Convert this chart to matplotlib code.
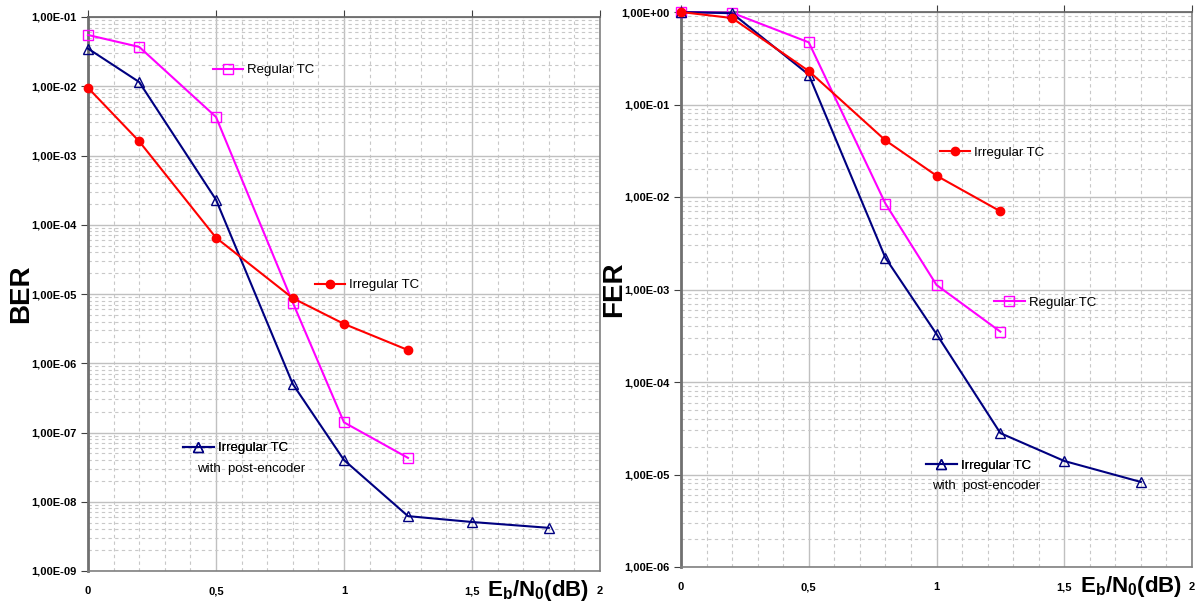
import numpy as np
import matplotlib.pyplot as plt
from matplotlib.ticker import FuncFormatter, LogLocator, MultipleLocator

plt.rcParams['font.family'] = ['Liberation Sans', 'DejaVu Sans']

########## data #################
ebn0 = [0, 0.2, 0.5, 0.8, 1.0, 1.25]
ebn0_post = [0, 0.2, 0.5, 0.8, 1.0, 1.25, 1.5, 1.8]

ber_regular = [5.5e-2, 3.7e-2, 3.6e-3, 7.5e-6, 1.4e-7, 4.3e-8]
ber_irregular = [9.5e-3, 1.6e-3, 6.5e-5, 8.7e-6, 3.7e-6, 1.55e-6]
ber_post = [3.5e-2, 1.15e-2, 2.3e-4, 5.0e-7, 4.0e-8, 6.2e-9, 5.1e-9, 4.2e-9]

fer_regular = [1.0, 0.98, 0.47, 8.5e-3, 1.12e-3, 3.5e-4]
fer_irregular = [1.0, 0.86, 0.23, 4.1e-2, 1.7e-2, 7.0e-3]
fer_post = [1.0, 0.97, 0.21, 2.2e-3, 3.3e-4, 2.8e-5, 1.4e-5, 8.3e-6]

MAG = '#ff00ff'
RED = '#ff0000'
NAVY = '#000080'

fig = plt.figure(figsize=(11.99, 6.01), dpi=100)
axL = fig.add_axes([88/1199, 1-571/601, 512/1199, 554/601])
axR = fig.add_axes([681/1199, 1-567/601, 511/1199, 555/601])


def sci_fmt(v, pos):
    return f"{v:.2E}".replace('.', ',')


def x_fmt(v, pos):
    return f"{v:g}".replace('.', ',')


def style_axis(ax, ymin, ymax, ylabel):
    ax.set_yscale('log')
    ax.set_xlim(0, 2)
    ax.set_ylim(ymin, ymax)
    ax.xaxis.set_major_locator(MultipleLocator(0.5))
    ax.xaxis.set_minor_locator(MultipleLocator(0.1))
    ax.yaxis.set_major_locator(LogLocator(base=10, numticks=20))
    ax.yaxis.set_minor_locator(LogLocator(base=10, subs=np.arange(2, 10), numticks=20))
    ax.yaxis.set_major_formatter(FuncFormatter(sci_fmt))
    ax.yaxis.set_minor_formatter(FuncFormatter(lambda v, p: ''))
    ax.xaxis.set_major_formatter(FuncFormatter(x_fmt))
    ax.grid(which='major', color='#c0c0c0', lw=1.0, ls='-')
    ax.grid(which='minor', color='#c8c8c8', lw=0.8, ls=(0, (3, 3)))
    ax.set_axisbelow(True)
    ax.tick_params(axis='x', which='major', top=True, bottom=False, labeltop=False,
                   labelbottom=True, direction='out', length=5, pad=6,
                   color='#404040', labelsize=8)
    ax.tick_params(axis='x', which='minor', top=False, bottom=False)
    ax.tick_params(axis='y', which='major', direction='out', length=5, pad=3,
                   color='#404040', labelsize=8)
    ax.tick_params(axis='y', which='minor', left=False)
    for lab in ax.get_xticklabels() + ax.get_yticklabels():
        lab.set_fontweight('bold')
    for s in ax.spines.values():
        s.set_color('#808080')
        s.set_linewidth(1.2)
    ax.spines['left'].set_linewidth(2)
    ax.spines['left'].set_color('#707070')
    ax.spines['top'].set_color('#606060')
    ax.set_ylabel(ylabel, fontsize=20, fontweight='bold', va='center')
    ax.yaxis.set_label_coords(-0.13, 0.5)
    ax.set_xlabel(r'E$_\mathregular{b}$/N$_\mathregular{0}$(dB)', fontsize=16,
                  fontweight='bold', va='center')
    ax.xaxis.set_label_coords(0.88, -0.035)


def draw(ax, x1, reg, irr, x2, post):
    l_reg, = ax.plot(x1, reg, color=MAG, lw=1.5, marker='s', ms=7, mfc='none',
                     mec=MAG, mew=1.0, clip_on=False, zorder=3)
    l_irr, = ax.plot(x1, irr, color=RED, lw=1.5, marker='o', ms=6, mfc=RED,
                     mec=RED, clip_on=False, zorder=4)
    l_post, = ax.plot(x2, post, color=NAVY, lw=1.5, marker='^', ms=7, mfc='none',
                      mec=NAVY, mew=1.0, clip_on=False, zorder=3)
    return l_reg, l_irr, l_post


def put_legend(ax, handle, label, x, y):
    leg = ax.legend([handle], [label], loc='center left', bbox_to_anchor=(x, y),
                    frameon=False, borderpad=0, borderaxespad=0, handlelength=2.3,
                    handletextpad=0.3, prop={'size': 9.5})
    ax.add_artist(leg)


######## left: BER ########
style_axis(axL, 1e-9, 1e-1, 'BER')
hr, hi, hp = draw(axL, ebn0, ber_regular, ber_irregular, ebn0_post, ber_post)
put_legend(axL, hr, 'Regular TC', 0.244, 0.904)
put_legend(axL, hi, 'Irregular TC', 0.443, 0.516)
put_legend(axL, hp, 'Irregular TC', 0.186, 0.222)
axL.text(0.213, 0.185, 'with  post-encoder', transform=axL.transAxes,
         fontsize=9.5, va='center', ha='left')

######## right: FER ########
style_axis(axR, 1e-6, 1e0, 'FER')
hr, hi, hp = draw(axR, ebn0, fer_regular, fer_irregular, ebn0_post, fer_post)
put_legend(axR, hi, 'Irregular TC', 0.506, 0.746)
put_legend(axR, hr, 'Regular TC', 0.613, 0.476)
put_legend(axR, hp, 'Irregular TC', 0.480, 0.182)
axR.text(0.492, 0.146, 'with  post-encoder', transform=axR.transAxes,
         fontsize=9.5, va='center', ha='left')

fig.savefig('out.png', dpi=100)
